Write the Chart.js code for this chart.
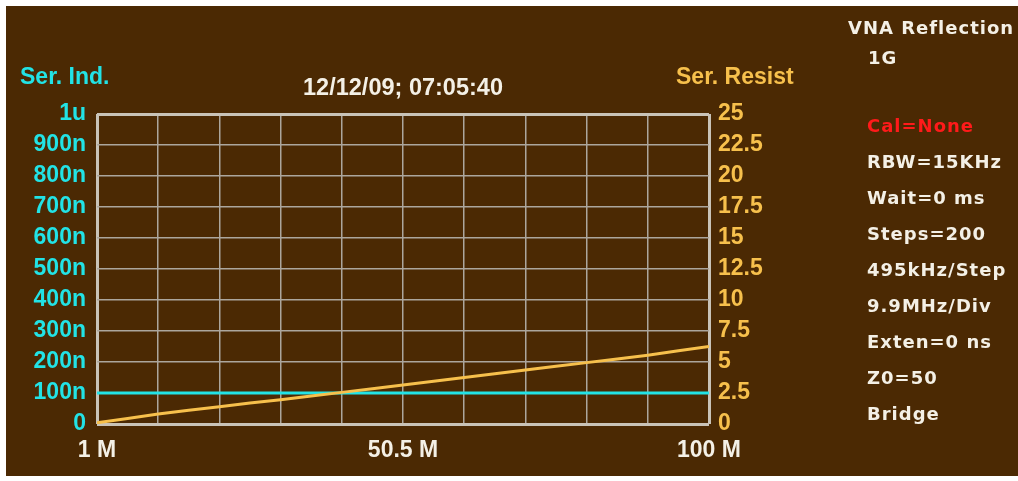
<!DOCTYPE html>
<html>
<head>
<meta charset="utf-8">
<script src="https://cdn.jsdelivr.net/npm/chart.js@4.4.1/dist/chart.umd.min.js"></script>
<style>
  html, body { margin: 0; padding: 0; background: #ffffff; }
  #wrap { position: absolute; left: 6px; top: 6px; width: 1012px; height: 470px; background: #4b2903; }
  canvas { display: block; }
</style>
</head>
<body>
<div id="wrap"><canvas id="c" width="1012" height="470"></canvas></div>
<script>
// ---- data ----
const freqMHz = [1, 5.95, 10.9, 15.85, 20.8, 25.75, 30.7, 35.65, 40.6, 45.55, 50.5,
                 55.45, 60.4, 65.35, 70.3, 75.25, 80.2, 85.15, 90.1, 95.05, 100];
const serResist = [0.1, 0.45, 0.8, 1.1, 1.4, 1.7, 1.95, 2.25, 2.55, 2.85, 3.15,
                   3.45, 3.75, 4.05, 4.35, 4.65, 4.95, 5.25, 5.55, 5.9, 6.25];
const serIndNH = [100, 100, 100, 100, 100, 100, 100, 100, 100, 100, 100,
                  100, 100, 100, 100, 100, 100, 100, 100, 100, 100];
const xTicks = [1, 10.9, 20.8, 30.7, 40.6, 50.5, 60.4, 70.3, 80.2, 90.1, 100];
const xTickLabels = ['1 M', '', '', '', '', '50.5 M', '', '', '', '', '100 M'];
const leftTicks = [0, 100, 200, 300, 400, 500, 600, 700, 800, 900, 1000];
const leftTickLabels = ['0', '100n', '200n', '300n', '400n', '500n', '600n', '700n', '800n', '900n', '1u'];
const rightTicks = [0, 2.5, 5, 7.5, 10, 12.5, 15, 17.5, 20, 22.5, 25];
const rightTickLabels = ['0', '2.5', '5', '7.5', '10', '12.5', '15', '17.5', '20', '22.5', '25'];
const leftAxisTitle = 'Ser. Ind.';
const rightAxisTitle = 'Ser. Resist';
const dateText = '12/12/09; 07:05:40';
const panelTitle = ['VNA Reflection', '1G'];
const panelCal = 'Cal=None';
const panelLines = ['RBW=15KHz', 'Wait=0 ms', 'Steps=200', '495kHz/Step', '9.9MHz/Div', 'Exten=0 ns', 'Z0=50', 'Bridge'];

// ---- styles ----
const CYAN = '#22e3e6';
const ORANGE = '#f7c04c';
const WHITE = '#f4f0e6';
const FRAME = '#c9c3b8';
const GRID = '#aca69d';
const axisFont = { family: '"Liberation Sans", Arial, sans-serif', size: 23, weight: 'bold' };

const textPlugin = {
  id: 'texts',
  afterDraw(chart) {
    const ctx = chart.ctx;
    ctx.save();
    ctx.textBaseline = 'middle';
    ctx.font = 'bold 23px "Liberation Sans", Arial, sans-serif';
    ctx.textAlign = 'left';
    ctx.fillStyle = CYAN;
    ctx.fillText(leftAxisTitle, 14, 72);
    ctx.fillStyle = ORANGE;
    ctx.fillText(rightAxisTitle, 670, 72);
    ctx.textAlign = 'center';
    ctx.fillStyle = WHITE;
    ctx.font = 'bold 23.5px "Liberation Sans", Arial, sans-serif';
    ctx.fillText(dateText, 397, 83);

    ctx.textAlign = 'left';
    ctx.font = 'bold 18px "DejaVu Sans", sans-serif';
    ctx.letterSpacing = '1px';
    ctx.fillStyle = WHITE;
    ctx.fillText(panelTitle[0], 842, 23);
    ctx.fillText(panelTitle[1], 862, 53);
    ctx.fillStyle = '#ff1a1a';
    ctx.fillText(panelCal, 861, 121);
    ctx.fillStyle = WHITE;
    panelLines.forEach((t, i) => ctx.fillText(t, 861, 157 + i * 36));
    ctx.restore();
  }
};

const edgeWidth = (c) => (c.index === 0 || c.index === 10) ? 3 : 1.5;
const edgeColor = (c) => (c.index === 0 || c.index === 10) ? FRAME : GRID;

new Chart(document.getElementById('c'), {
  type: 'line',
  data: {
    datasets: [
      {
        label: rightAxisTitle,
        data: freqMHz.map((f, i) => ({ x: f, y: serResist[i] })),
        yAxisID: 'yR',
        borderColor: ORANGE,
        borderWidth: 3,
        pointRadius: 0,
        tension: 0
      },
      {
        label: leftAxisTitle,
        data: freqMHz.map((f, i) => ({ x: f, y: serIndNH[i] })),
        yAxisID: 'yL',
        borderColor: CYAN,
        borderWidth: 3,
        pointRadius: 0,
        tension: 0
      }
    ]
  },
  options: {
    responsive: false,
    animation: false,
    events: [],
    layout: { padding: { left: 0, top: 108, right: 209, bottom: 0 } },
    plugins: { legend: { display: false }, tooltip: { enabled: false }, title: { display: false } },
    scales: {
      x: {
        type: 'linear', min: 1, max: 100,
        afterBuildTicks: (s) => { s.ticks = xTicks.map(v => ({ value: v })); },
        afterFit: (s) => { s.height = 52; },
        grid: { color: edgeColor, lineWidth: edgeWidth, drawTicks: false },
        border: { display: false },
        ticks: {
          autoSkip: false, maxRotation: 0, padding: 13, color: WHITE, font: axisFont,
          callback: (v, i) => xTickLabels[i]
        }
      },
      yL: {
        type: 'linear', position: 'left', min: 0, max: 1000,
        afterBuildTicks: (s) => { s.ticks = leftTicks.map(v => ({ value: v })); },
        afterFit: (s) => { s.width = 91; },
        grid: { color: edgeColor, lineWidth: edgeWidth, drawTicks: false },
        border: { display: false },
        ticks: {
          autoSkip: false, padding: 11, color: CYAN, font: axisFont,
          callback: (v, i) => leftTickLabels[i]
        }
      },
      yR: {
        type: 'linear', position: 'right', min: 0, max: 25,
        afterBuildTicks: (s) => { s.ticks = rightTicks.map(v => ({ value: v })); },
        afterFit: (s) => { s.width = 100; },
        grid: { display: false, drawTicks: false },
        border: { display: false },
        ticks: {
          autoSkip: false, padding: 9, color: ORANGE, font: axisFont,
          callback: (v, i) => rightTickLabels[i]
        }
      }
    }
  },
  plugins: [textPlugin]
});
</script>
</body>
</html>
